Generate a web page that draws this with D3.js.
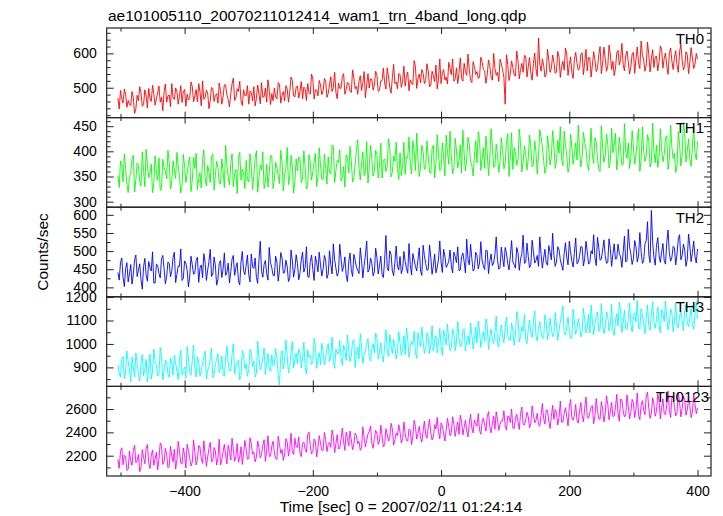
<!DOCTYPE html>
<html><head><meta charset="utf-8">
<script src="https://cdn.jsdelivr.net/npm/d3@7"></script>
<style>
html,body{margin:0;padding:0;background:#fff;}
svg{display:block;font-family:"Liberation Sans",Arial,Helvetica,sans-serif;}
</style></head>
<body>
<script>
// ---------- data ----------
const title = "ae101005110_20070211012414_wam1_trn_4band_long.qdp";
const xLabel = "Time [sec] 0 = 2007/02/11 01:24:14";
const yLabel = "Counts/sec";
const tStart = -504, tEnd = 400;               // sample times span (sec)
const xTicksMajor = [-400, -200, 0, 200, 400];
const xTicksMinor = [-500, -300, -100, 100, 300];

const bandNames = ["TH0", "TH1", "TH2", "TH3", "TH0123"];

// samples at even bins (a) and the in-between bins (b)
const th0a = [
470,492,455,481,463,448,471,439,462,485,
451,476,498,460,482,467,505,472,488,458,
479,512,466,490,474,457,495,481,468,503,
476,459,488,520,471,484,462,497,478,455,
491,473,508,466,482,528,470,489,461,494,
477,452,486,503,469,481,515,474,458,492,
483,499,467,510,478,461,496,487,521,473,
505,489,468,497,512,481,526,494,476,508,
491,519,483,532,502,487,514,498,541,495,
511,486,528,504,519,492,547,510,499,525,
507,536,493,521,514,558,502,529,512,497,
538,518,505,546,523,509,561,527,514,542,
521,549,508,535,566,527,512,553,531,574,
538,519,558,544,528,571,536,553,515,562,
547,531,576,549,538,564,522,557,545,583,
552,452,568,541,559,534,578,553,545,592,
561,543,570,555,645,548,566,539,581,557,
573,546,589,562,551,598,567,544,583,571,
556,602,574,549,587,566,581,558,620,572,
586,563,598,577,555,609,582,568,594,575,
561,603,584,571,636,580,566,597,583,559,
592,576,611,585,563,599,578,589,567,604,
581,562,596,574,588,569,583];
const th0b = [
438,467,496,443,452,489,425,478,503,446,
494,441,468,507,449,486,458,433,511,476,
445,470,499,452,506,488,446,464,517,459,
495,512,447,466,493,439,501,460,483,514,
452,509,479,444,511,463,497,519,448,477,
506,491,462,447,508,453,472,499,523,451,
462,473,515,455,489,506,458,531,476,502,
470,518,502,463,486,540,467,493,521,480,
527,472,508,489,545,468,499,533,481,516,
490,552,497,481,535,514,471,541,526,493,
548,489,520,557,496,531,484,568,517,542,
501,563,532,491,514,579,498,540,553,512,
570,503,548,518,497,584,542,522,511,556,
584,526,512,587,519,548,598,521,576,539,
527,589,553,513,581,531,600,536,518,569,
530,596,521,578,537,607,526,571,594,531,
588,522,601,533,569,584,531,612,545,595,
542,606,530,577,616,536,590,527,603,551,
597,538,612,588,531,605,547,596,541,618,
548,624,553,535,601,566,629,549,607,540,
598,542,619,556,597,548,633,546,611,590,
549,622,557,601,539,616,553,608,545,627,
552,605,541,617,556,600];

const th1a = [
352,381,339,366,318,357,392,344,371,331,
362,404,348,375,336,359,387,327,368,345,
379,341,363,398,350,333,371,356,389,342,
366,324,358,384,347,372,338,395,353,369,
335,361,412,349,376,330,364,387,343,357,
382,339,370,352,401,346,363,326,374,358,
391,344,367,336,379,355,408,349,372,340,
361,385,347,368,332,377,359,396,351,373,
344,366,389,355,410,362,378,341,370,393,
357,381,348,402,366,375,352,419,368,386,
361,394,373,347,385,369,408,358,380,366,
397,371,354,388,376,421,362,384,370,399,
367,389,356,412,378,395,364,386,432,374,
392,368,401,381,357,396,385,414,372,390,
377,425,383,366,398,387,409,371,393,380,
402,376,435,388,364,397,384,416,379,395,
386,408,373,399,391,428,382,367,404,389,
411,378,396,385,440,392,370,407,394,383,
402,389,418,376,399,393,427,385,360,406,
391,414,381,397,436,388,404,374,398,417,
386,409,393,445,382,401,390,421,378,399,
412,387,403,394,431,383,408,396,372,415,
392,438,401,385,410,397,420];
const th1b = [
328,371,395,334,350,386,319,377,341,399,
330,373,357,318,391,342,322,384,361,402,
325,381,346,371,317,394,338,376,320,388,
396,345,327,403,331,359,389,323,380,337,
385,328,372,333,395,356,316,398,365,326,
343,395,324,387,319,373,399,340,329,391,
326,378,352,402,321,366,334,392,317,385,
389,338,401,325,394,343,378,330,407,345,
394,335,357,413,338,382,403,348,329,387,
410,339,374,423,343,399,361,337,412,351,
402,347,416,382,360,425,349,391,418,344,
352,418,389,429,355,401,436,350,412,364,
421,359,405,347,433,362,417,351,398,440,
355,426,367,413,442,361,428,379,351,421,
439,362,407,430,352,445,368,414,358,427,
365,418,350,437,407,372,444,359,411,363,
432,369,421,355,443,409,356,431,373,441,
366,422,449,371,412,358,434,374,417,452,
369,438,405,362,446,376,419,364,451,378,
434,367,446,412,363,428,372,455,386,366,
441,374,422,360,449,380,433,369,456,377,
368,445,379,427,364,452,386,358,439,371,
457,379,425,370,448,383];

const th2a = [
441,468,427,452,415,463,436,489,448,422,
457,433,471,445,412,464,438,479,451,429,
466,444,497,436,458,419,473,447,431,462,
440,483,453,426,469,448,505,437,459,422,
474,450,433,467,443,488,455,418,470,446,
461,435,492,452,427,476,444,463,438,510,
454,432,469,447,481,441,458,425,473,450,
466,439,497,455,430,471,449,486,443,462,
451,476,437,464,520,453,441,479,458,433,
470,447,491,456,438,474,460,528,449,467,
443,482,461,435,476,454,501,446,469,457,
485,450,472,439,463,493,458,477,445,516,
466,449,483,461,440,478,470,505,455,472,
459,497,468,446,484,471,533,462,479,452,
488,467,475,449,501,473,460,491,476,455,
482,510,465,487,470,453,496,478,544,469,
485,463,499,474,458,492,481,467,515,476,
489,470,504,461,494,483,527,472,497,465,
486,511,478,499,468,492,482,538,475,503,
488,469,507,491,478,519,484,497,470,560,
493,479,512,486,499,473,530,490,612,482,
516,488,497,474,523,495,483,509,492,545,
487,503,478,514,496,485,506];
const th2b = [
420,481,402,468,437,409,476,430,465,395,
480,417,455,498,412,461,426,488,410,470,
429,482,413,459,506,425,467,401,486,436,
475,414,462,493,419,471,430,484,406,466,
427,495,441,412,478,433,468,407,499,435,
489,415,457,481,411,527,428,474,420,468,
433,486,417,496,439,475,416,503,428,490,
421,478,442,512,427,489,419,468,497,431,
488,425,501,437,476,431,519,444,484,416,
495,430,475,447,509,426,489,442,481,432,
508,437,486,427,543,445,491,432,514,448,
438,499,452,521,434,476,445,509,433,488,
447,517,436,492,456,528,441,486,462,503,
440,485,512,448,495,440,477,519,445,497,
451,526,459,503,438,492,467,539,450,511,
457,494,448,529,462,510,447,493,466,522,
454,530,467,488,539,453,505,461,497,549,
458,512,476,447,523,462,498,456,536,470,
513,459,527,464,501,545,460,509,478,531,
466,534,458,520,479,494,455,541,474,512,
463,529,470,551,466,520,581,468,526,461,
537,469,521,464,558,472,513,462,534,476,
519,458,547,471,528,467];

const th3a = [
912,858,947,881,926,839,903,962,874,918,
865,934,897,851,978,908,872,941,889,923,
857,915,952,883,936,868,901,989,877,929,
893,946,862,918,970,887,934,855,912,958,
899,873,941,920,884,1001,906,931,867,949,
915,890,962,927,875,943,908,983,921,896,
954,912,937,826,971,929,948,903,1010,933,
917,962,940,899,975,951,925,988,944,911,
966,937,1002,952,926,979,958,941,995,930,
971,949,1018,963,935,986,957,1004,945,978,
962,1027,970,951,993,975,1040,959,986,968,
1003,977,955,1021,984,997,964,1048,989,1010,
978,1026,995,969,1035,1004,988,1059,996,1019,
983,1042,1008,1027,991,1065,1013,997,1038,1020,
1004,1056,1025,1011,1080,1033,1016,1049,1002,1044,
1028,1071,1037,1015,1058,1040,1112,1031,1052,1019,
1063,1045,1087,1036,1070,1053,1026,1094,1049,1067,
1041,1082,1058,1125,1046,1073,1061,1030,1090,1066,
1078,1052,1103,1071,1047,1098,1084,1136,1062,1089,
1070,1115,1081,1056,1099,1077,1142,1088,1065,1106,
1083,1121,1094,1068,1150,1087,1109,1075,1128,1092,
1104,1079,1146,1095,1113,1086,1131,1098,1072,1119,
1101,1140,1090,1112,1083,1125,1107];
const th3b = [
876,935,851,970,889,944,860,918,841,955,
894,838,957,880,925,863,985,846,931,872,
940,867,918,848,973,891,853,936,866,995,
859,927,884,942,851,903,982,869,937,878,
949,862,991,885,956,872,925,848,972,894,
862,977,903,858,1012,889,941,870,959,883,
905,981,869,948,893,1017,876,965,899,962,
978,898,1008,871,943,912,1025,896,962,1003,
911,981,925,1029,896,958,1015,908,974,1038,
925,1012,899,987,1044,916,969,1023,927,1001,
1046,935,1005,923,1061,947,995,1019,936,1052,
951,1035,1068,942,1011,1054,938,1008,1072,960,
1049,958,1078,1017,962,1066,951,1029,1085,972,
1064,971,1096,988,1057,970,1034,1089,978,1071,
1098,985,1052,1107,976,1064,1002,1119,987,1081,
1005,1115,1017,1089,994,1138,1009,1074,1126,1001,
1102,1028,1141,1012,1096,1024,1125,1018,1110,1031,
1134,1015,1097,1162,1038,1115,1022,1148,1041,1107,
1030,1152,1047,1126,1166,1039,1118,1053,1172,1044,
1137,1055,1170,1036,1129,1178,1049,1144,1061,1175,
1050,1132,1186,1062,1119,1043,1167,1058,1180,1066,
1158,1047,1131,1183,1060,1149,1051,1176,1069,1139,
1056,1168,1074,1152,1062,1181];

const th0123a = [
2168,2235,2121,2194,2082,2156,2247,2139,2210,2098,
2185,2262,2143,2206,2117,2229,2172,2284,2150,2213,
2108,2196,2255,2161,2238,2127,2203,2298,2179,2145,
2226,2168,2272,2134,2214,2190,2315,2157,2241,2182,
2120,2233,2205,2289,2163,2251,2196,2144,2277,2218,
2259,2174,2302,2230,2186,2268,2211,2337,2243,2195,
2282,2224,2168,2296,2253,2207,2318,2262,2234,2350,
2270,2219,2306,2255,2381,2288,2236,2324,2273,2310,
2247,2339,2296,2271,2362,2305,2258,2347,2318,2402,
2284,2336,2299,2375,2322,2268,2357,2331,2410,2306,
2348,2390,2325,2367,2294,2384,2352,2431,2338,2371,
2402,2345,2386,2326,2418,2369,2451,2391,2357,2412,
2378,2446,2394,2361,2428,2405,2482,2387,2420,2452,
2399,2467,2431,2383,2490,2442,2414,2475,2437,2506,
2452,2418,2488,2461,2533,2445,2479,2427,2512,2468,
2497,2456,2541,2483,2438,2522,2490,2563,2471,2508,
2532,2479,2555,2504,2466,2547,2519,2592,2497,2536,
2511,2573,2528,2488,2564,2539,2617,2521,2550,2502,
2583,2546,2605,2530,2568,2629,2542,2587,2511,2601,
2559,2640,2577,2535,2612,2568,2686,2584,2549,2622,
2573,2651,2597,2548,2634,2589,2712,2602,2566,2643,
2585,2670,2611,2559,2638,2598,2695,2614,2571,2655,
2603,2681,2592,2628,2575,2647,2610];
const th0123b = [
2092,2268,2203,2074,2241,2118,2289,2157,2063,2252,
2131,2295,2089,2248,2172,2078,2310,2125,2263,2096,
2281,2147,2085,2323,2139,2267,2094,2245,2113,2336,
2120,2289,2175,2328,2108,2262,2147,2270,2119,2341,
2165,2298,2128,2236,2349,2152,2304,2187,2125,2331,
2170,2354,2212,2148,2327,2181,2289,2153,2371,2196,
2324,2175,2367,2219,2160,2346,2196,2392,2211,2278,
2361,2192,2319,2228,2404,2215,2343,2189,2372,2246,
2399,2235,2314,2421,2226,2381,2262,2437,2245,2348,
2411,2251,2393,2302,2246,2448,2275,2386,2455,2263,
2417,2297,2461,2275,2432,2326,2478,2290,2395,2466,
2308,2489,2331,2429,2295,2503,2342,2452,2316,2497,
2349,2512,2335,2466,2528,2344,2455,2326,2520,2371,
2534,2366,2489,2547,2378,2503,2361,2556,2395,2473,
2561,2384,2522,2410,2578,2396,2539,2576,2417,2498,
2585,2419,2534,2601,2431,2556,2425,2617,2462,2573,
2438,2627,2481,2564,2452,2648,2470,2590,2433,2631,
2595,2463,2667,2487,2611,2455,2682,2504,2639,2478,
2656,2491,2704,2520,2619,2474,2691,2517,2663,2489,
2714,2508,2657,2541,2726,2495,2678,2532,2721,2516,
2683,2527,2738,2509,2672,2551,2745,2520,2696,2538,
2731,2515,2689,2552,2754,2528,2704,2541,2743,2533,
2712,2547,2688,2526,2732,2560];

// axis ranges and tick labels per panel
const yDomains = [[413, 674], [289, 467], [374, 621], [819, 1201], [2026, 2794]];
const yTickLabels = [[500, 600], [300, 350, 400, 450], [400, 450, 500, 550, 600], [900, 1000, 1100, 1200], [2200, 2400, 2600]];
const yMinorSteps = [20, 10, 25, 50, 100];
const colors = ["#ff0000", "#00ff00", "#0000ff", "#00ffff", "#ff00ff"];

// interleave the two sample sets into one time series
const interleave = (a, b) => a.flatMap((v, j) => j < b.length ? [v, b[j]] : [v]);
const series = [interleave(th0a, th0b), interleave(th1a, th1b), interleave(th2a, th2b),
                interleave(th3a, th3b), interleave(th0123a, th0123b)];

// ---------- drawing ----------
const W = 723, H = 516;
const L = 106.7, R = 711, T = 28, B = 476;
const ph = (B - T) / series.length;
const frameColor = "#222";
const tickFont = 14;

const svg = d3.select("body").append("svg").attr("width", W).attr("height", H);
const x = d3.scaleLinear().domain([-521.5, 421]).range([L, R]);

svg.append("text").attr("x", 108).attr("y", 21).attr("font-size", 15.5).attr("fill", "#000").text(title);
svg.append("text").attr("x", 401).attr("y", 512).attr("text-anchor", "middle")
  .attr("font-size", 15.5).attr("fill", "#000").text(xLabel);
svg.append("text").attr("transform", `translate(48,${(T + B) / 2}) rotate(-90)`).attr("text-anchor", "middle")
  .attr("font-size", 15.5).attr("fill", "#000").text(yLabel);

const defs = svg.append("defs");

series.forEach((vals, i) => {
  const y0 = T + i * ph, y1 = y0 + ph;
  const y = d3.scaleLinear().domain(yDomains[i]).range([y1, y0]);
  const n = vals.length;
  const times = vals.map((_, j) => tStart + j * (tEnd - tStart) / (n - 1));

  defs.append("clipPath").attr("id", "clip" + i).append("rect")
    .attr("x", L).attr("y", y0).attr("width", R - L).attr("height", ph);

  const line = d3.line().x((d, j) => x(times[j])).y(d => y(d));
  svg.append("path").datum(vals).attr("clip-path", `url(#clip${i})`)
    .attr("d", line).attr("fill", "none").attr("stroke", colors[i]).attr("stroke-width", 0.9);

  const [dmin, dmax] = yDomains[i];
  const st = yMinorSteps[i];
  const minor = d3.range(Math.ceil(dmin / st) * st, dmax + 0.001, st).filter(v => !yTickLabels[i].includes(v));

  const styleAxis = g => { g.select(".domain").remove(); g.selectAll("line").attr("stroke", frameColor); };
  const styleText = g => g.selectAll("text").attr("font-size", tickFont).attr("fill", "#000")
    .attr("font-family", "Liberation Sans, Arial, sans-serif");

  // left axis
  svg.append("g").attr("transform", `translate(${L},0)`)
    .call(d3.axisLeft(y).tickValues(yTickLabels[i]).tickSize(-7).tickPadding(10).tickFormat(d3.format("d")))
    .call(styleAxis).call(styleText);
  svg.append("g").attr("transform", `translate(${L},0)`)
    .call(d3.axisLeft(y).tickValues(minor).tickSize(-4).tickFormat("")).call(styleAxis);
  // right axis
  svg.append("g").attr("transform", `translate(${R},0)`)
    .call(d3.axisRight(y).tickValues(yTickLabels[i]).tickSize(-7).tickFormat("")).call(styleAxis);
  svg.append("g").attr("transform", `translate(${R},0)`)
    .call(d3.axisRight(y).tickValues(minor).tickSize(-4).tickFormat("")).call(styleAxis);

  // top and bottom x ticks
  svg.append("g").attr("transform", `translate(0,${y0})`)
    .call(d3.axisTop(x).tickValues(xTicksMajor).tickSize(-6).tickFormat("")).call(styleAxis);
  svg.append("g").attr("transform", `translate(0,${y0})`)
    .call(d3.axisTop(x).tickValues(xTicksMinor).tickSize(-3.5).tickFormat("")).call(styleAxis);
  svg.append("g").attr("transform", `translate(0,${y1})`)
    .call(d3.axisBottom(x).tickValues(xTicksMajor).tickSize(-6).tickPadding(10)
      .tickFormat(i === series.length - 1 ? d3.format("d") : ""))
    .call(styleAxis).call(styleText);
  svg.append("g").attr("transform", `translate(0,${y1})`)
    .call(d3.axisBottom(x).tickValues(xTicksMinor).tickSize(-3.5).tickFormat("")).call(styleAxis);

  // frame
  svg.append("rect").attr("x", L).attr("y", y0).attr("width", R - L).attr("height", ph)
    .attr("fill", "none").attr("stroke", frameColor).attr("stroke-width", 1.2);

  // band label
  svg.append("text").attr("x", i === series.length - 1 ? 709 : 704).attr("y", y0 + 15.5)
    .attr("text-anchor", "end").attr("font-size", 15).attr("fill", "#000").text(bandNames[i]);
});
</script>
</body></html>
